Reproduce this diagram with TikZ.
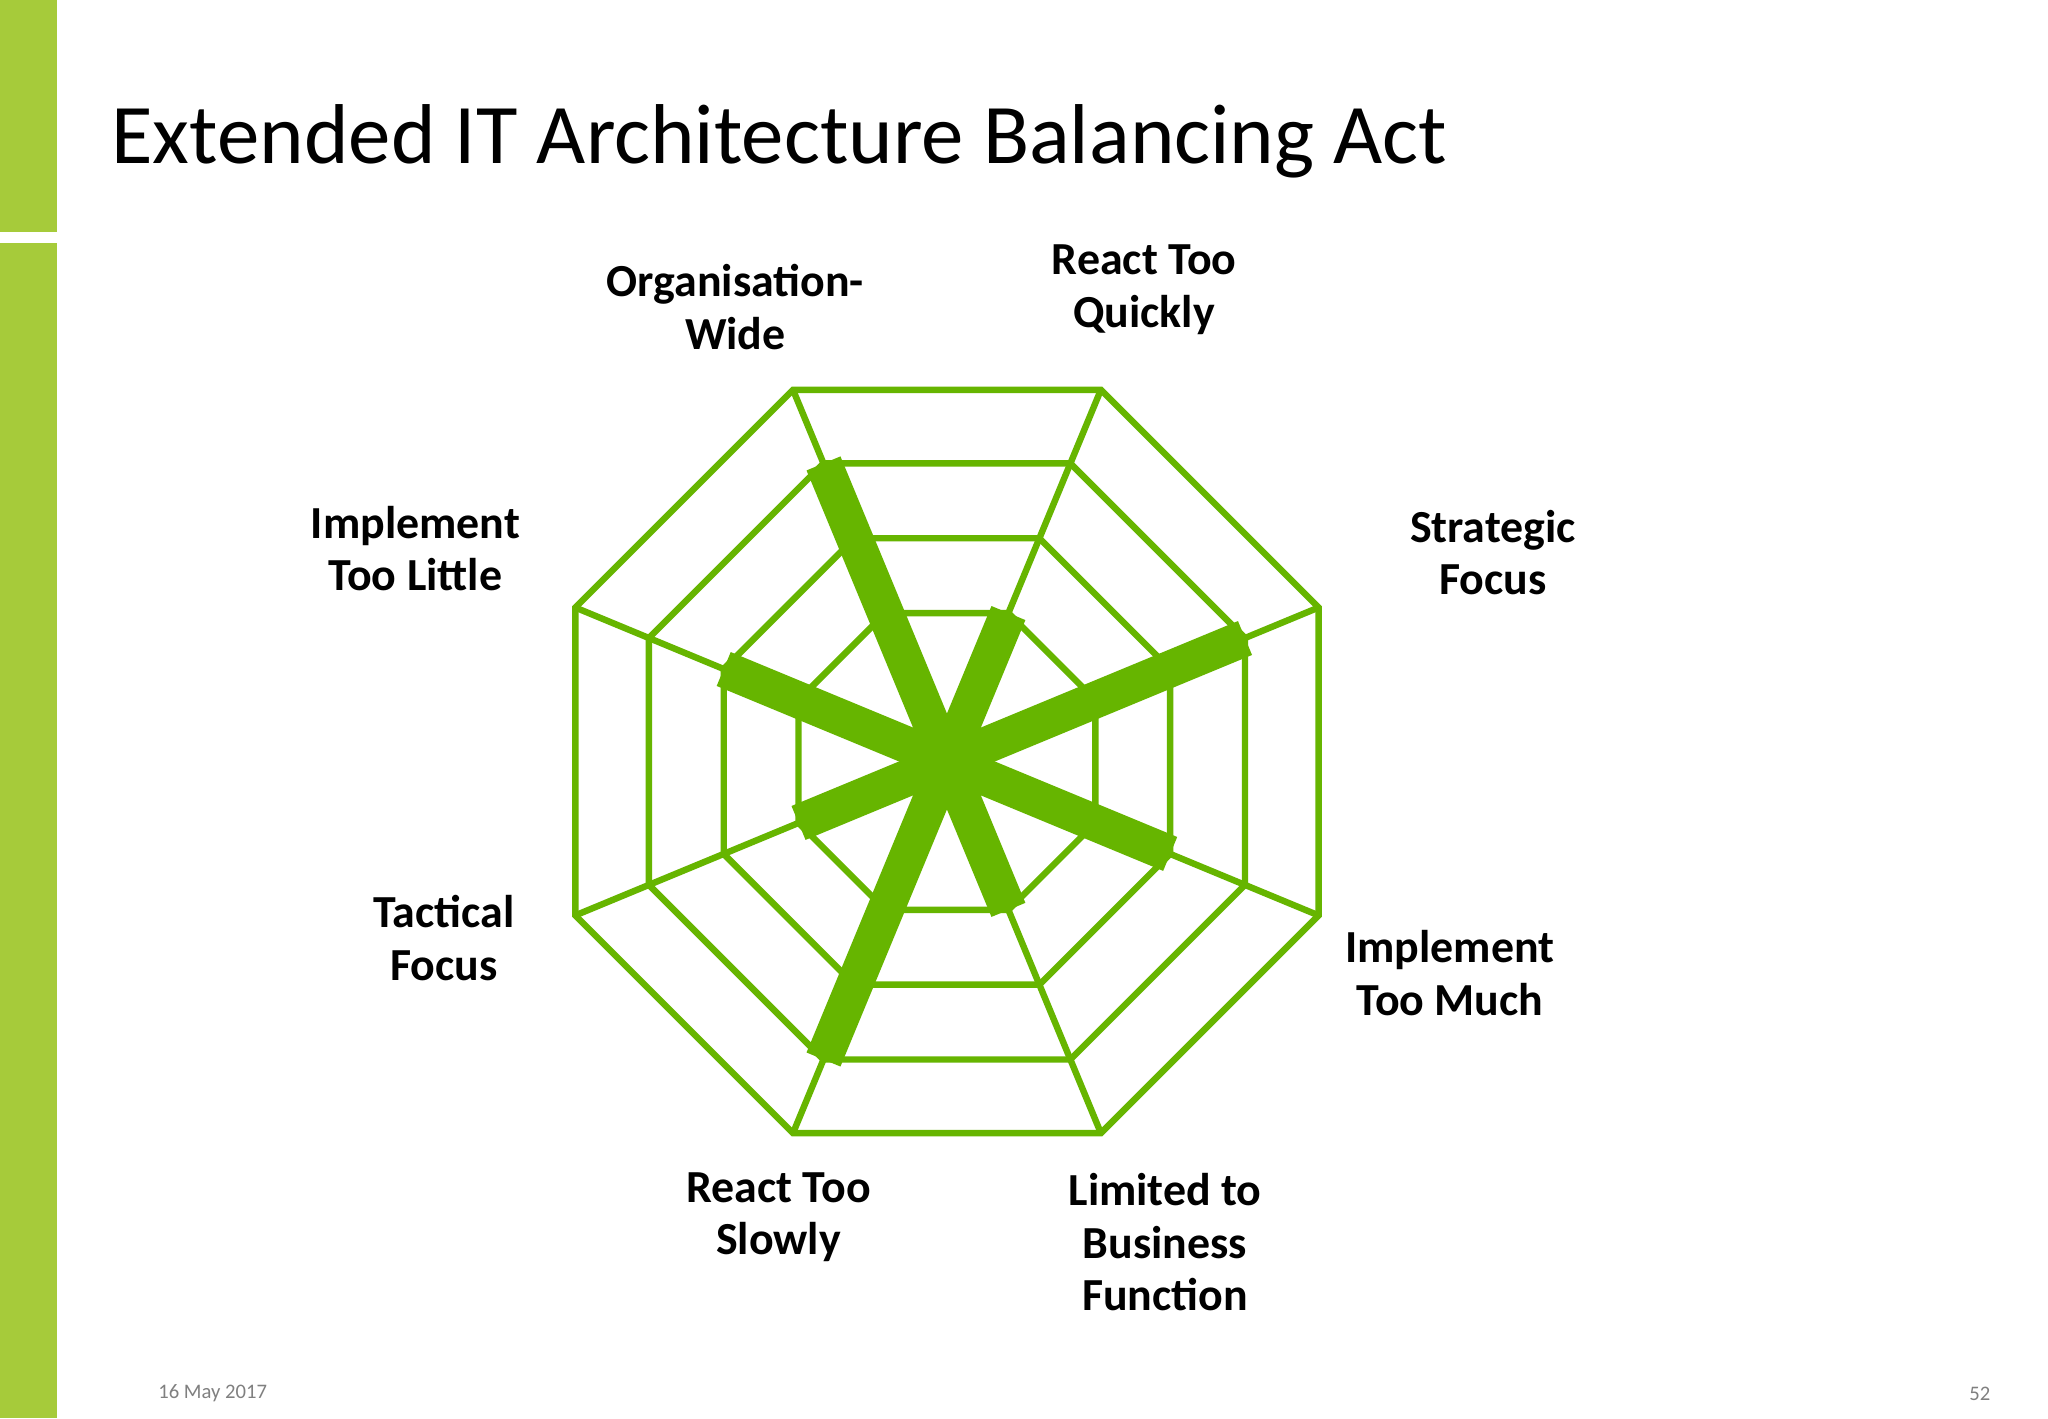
\documentclass[tikz,border=0pt]{standalone}
\usepackage{fontspec}
\usetikzlibrary{calc}
\setmainfont{Carlito}
\definecolor{gr}{HTML}{66B500}
\definecolor{bar}{HTML}{A6CB3A}
\begin{document}
\begin{tikzpicture}[x=0.02cm,y=0.02cm,
  ring/.style={draw=gr,line width=2.8pt,line join=miter},
  spoke/.style={draw=gr,line width=16pt,line cap=butt},
  lab/.style={font=\bfseries\fontsize{20}{23}\selectfont,align=center}]
\useasboundingbox (0,0) rectangle (1568,1086);
\fill[white] (0,0) rectangle (1568,1086);
\fill[bar] (0,0) rectangle (44,900);
\fill[bar] (0,908) rectangle (44,1086);
\node[anchor=base west,inner sep=0,font=\fontsize{37}{40}\selectfont] (title) at (85,961) {Extended IT Architecture Balancing Act};
\coordinate (c) at (725,503);
\foreach \r in {123,185,247,308}{
  \draw[ring] ($(c)+(22.5:\r)$) \foreach \a in {67.5,112.5,...,337.5}{ -- ($(c)+(\a:\r)$)} -- cycle;
}
\foreach \a in {22.5,67.5,...,337.5}{\draw[ring] ($(c)+(\a:123)$) -- ($(c)+(\a:308)$);}
\foreach \a/\r in {112.5/247,67.5/123,22.5/247,-22.5/185,-67.5/123,-112.5/247,-157.5/123,157.5/185}{
  \draw[spoke] (c) -- ($(c)+(\a:\r)$);
}
\node[lab] (ow) at (563,851) {Organisation-\\Wide};
\node[lab] (rq) at (876,864) {React Too\\Quickly};
\node[lab] (il) at (318,666) {Implement\\Too Little};
\node[lab] (sf) at (1143,663) {Strategic\\Focus};
\node[lab] (tf) at (340,368) {Tactical\\Focus};
\node[lab] (im) at (1110,341) {Implement\\Too Much};
\node[lab] (rs) at (596,154) {React Too\\Slowly};
\node[lab] (lb) at (892,135) {Limited to\\Business\\Function};
\node[anchor=west,font=\fontsize{9}{10}\selectfont,text=gray] (d) at (115,19) {16 May 2017};
\node[anchor=east,font=\fontsize{9}{10}\selectfont,text=gray] (p) at (1530,19) {52};
\end{tikzpicture}
\end{document}
